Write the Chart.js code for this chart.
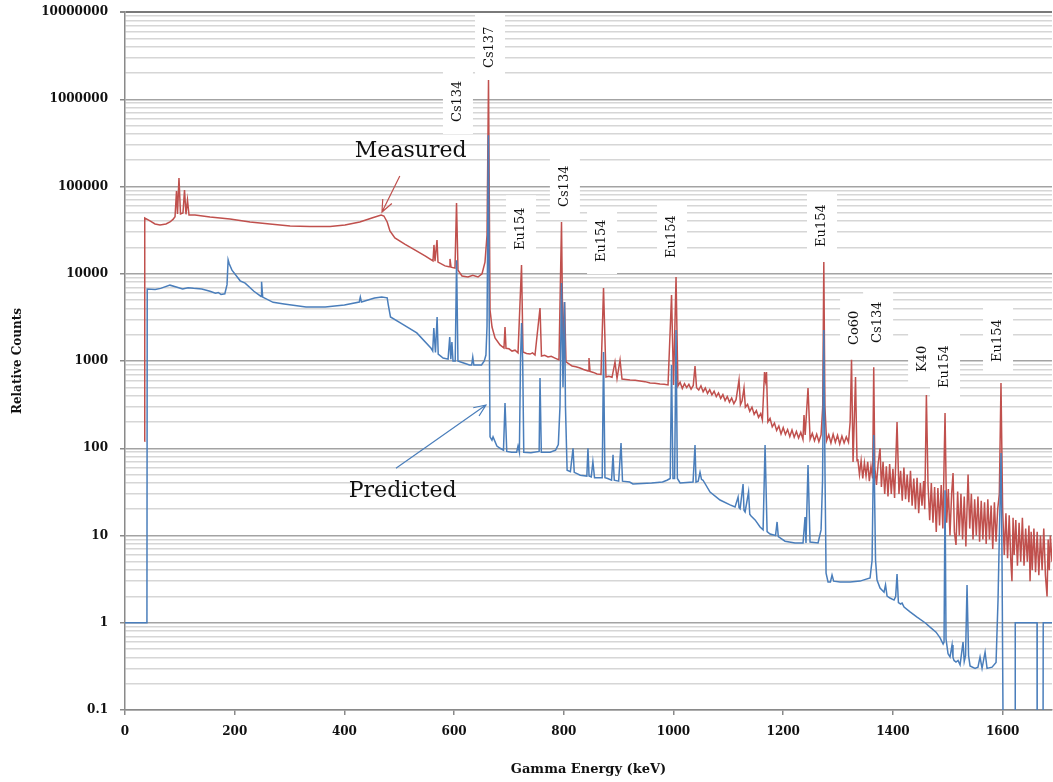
<!DOCTYPE html>
<html><head><meta charset="utf-8">
<script src="https://cdn.jsdelivr.net/npm/chart.js@4/dist/chart.umd.min.js"></script>
<style>html,body{margin:0;padding:0;background:#fff}canvas{display:block}</style>
</head><body>
<canvas id="c" width="1053" height="782"></canvas>
<script>
// [energy keV, relative counts]
const measured = [
[35.3,120],[36,43500],[45.6,40300],[54.7,37200],[63.8,36200],[74.7,37200],[82,39200],[87.5,42000],[91.2,45000],
[93.9,88700],[95.7,48400],[98.4,125000],[101.2,48400],[105.7,49600],[108.5,91200],[111.2,48000],[113.9,70000],
[116.7,47100],[127.6,47100],[155,44700],[191.4,42400],[228,39200],[264,37200],[301,35200],[337,34800],[374,34800],
[401,36200],[428,39200],[450,43500],[467,47100],[472,45900],[478,39200],[483,30900],[492,25700],[510,21900],
[529,18700],[547,16000],[561.5,14000],[563.3,21400],[565.2,13900],[568.8,24400],[570.6,13600],[583.4,12300],
[590.7,12000],[592.5,14800],[594.4,11900],[601.6,11600],[604.4,64700],[607.1,11000],[614.4,9420],[625.3,9180],
[634,9600],[643.6,9180],[650.9,10000],[656.3,13600],[660,27800],[662.7,1660000],[665.5,3840],[669.1,2450],
[674.6,1840],[683.7,1530],[690.9,1410],[692.8,2450],[694.6,1400],[700,1380],[705.6,1300],[711,1330],[716.5,1240],
[722.9,12600],[725.6,1270],[732,1220],[738.4,1200],[743,1240],[747.5,1170],[756.6,4050],[759.3,1140],[765,1160],
[771.2,1110],[777,1130],[783.9,1080],[791.2,1030],[795.8,39200],[798.5,1150],[801.3,4740],[804,975],[810,920],
[815,877],[822,860],[829.5,832],[836,800],[844.1,768],[845.9,1080],[847.8,760],[854,740],[860.5,710],[867.8,700],
[872.4,6870],[876.9,656],[882,670],[887.9,650],[893.3,975],[897,630],[902.5,1030],[906.1,622],[913,615],
[920.7,605],[930,600],[938.9,590],[948,580],[957.2,560],[966,555],[975.4,545],[983,540],[990,531],[996.4,5720],
[1000,530],[1004.6,9190],[1008,517],[1012,570],[1016,485],[1020,550],[1024,495],[1028,540],[1032,475],[1036,525],
[1039.2,877],[1042,495],[1046,465],[1050,520],[1054,445],[1058,490],[1062,425],[1066,470],[1070,410],[1074,450],
[1078,390],[1082,430],[1086,372],[1090,412],[1094,352],[1098,392],[1102,338],[1106,376],[1110,324],[1114,360],
[1119.4,605],[1122,315],[1125,350],[1128.5,491],[1131,295],[1135,318],[1139,265],[1143,296],[1147,245],[1151,270],
[1155,226],[1159,250],[1162,212],[1165.9,748],[1167.7,600],[1169.5,748],[1172,200],[1176,220],[1180,176],
[1184,194],[1188,160],[1192,180],[1196,146],[1200,172],[1204,144],[1208,164],[1212,136],[1216,162],[1220,134],
[1224,156],[1228,131],[1232,152],[1236,126],[1237.9,240],[1240,142],[1245.2,491],[1249,127],[1253,148],[1257,122],
[1261,145],[1265,119],[1269,142],[1272,300],[1274,13600],[1276,300],[1279,122],[1283,143],[1287,115],[1291,145],
[1295,117],[1299,141],[1303,112],[1307,138],[1311,115],[1315,135],[1319,117],[1322,200],[1324.5,1030],
[1327.3,69.5],[1331.8,656],[1334.5,72],
[1336,75],[1339,50],[1342,72],[1345,45],[1348,68],[1351,48],[1354,70],[1357,42],[1360,62],[1363,45],[1365,850],
[1367,60],[1370,38],[1373,66],[1376.5,100],[1379,36],[1382,70],[1385,30],[1388,62],[1391,28],[1394,66],[1397,30],
[1400,58],[1403,27],[1407.5,200],[1411,30],[1414,55],[1417,25],[1420,60],[1423,26],[1426,50],[1429,24],[1432,55],
[1435,22],[1438,45],[1441,20],[1444,46],[1447,18],[1450,40],[1453,22],[1456,42],[1458,20],[1461,407],[1464,38],
[1467,15],[1470,40],[1473,14],[1476,36],[1479,11],[1482,35],[1485,13],[1488,38],[1491,12],[1495,253],[1498,14],
[1501,34],[1504,10],[1507,30],[1509.6,52],[1512,11],[1515,7.8],[1518,32],[1521,10],[1524,30],[1527,9],[1530,28],
[1533,7.5],[1537,50],[1540,12],[1543,30],[1546,9],[1549,26],[1552,10],[1555,28],[1558,8.5],[1561,25],[1564,9],
[1567,24],[1570,8],[1573,26],[1576,9],[1579,22],[1582,7],[1585,24],[1588,8.5],[1591,20],[1594,30],[1597,560],
[1600,20],[1603,6],[1606,18],[1609,5.5],[1612,17],[1615,5],[1617,3],[1619,16],[1621,6],[1624,15],[1627,4.5],
[1630,14],[1633,5],[1636,16],[1639,4.5],[1642,12],[1645,5],[1648,13],[1650,3],[1652,11],[1654,4],[1657,12],
[1660,3.8],[1663,11],[1666,3.5],[1669,10],[1672,4],[1675,12],[1678,3.5],[1681,2],[1683,9],[1685,4],[1687,10],[1690,5]
];
const predicted = [
[0,1],[40,1],[40.5,6690],[55,6600],[65,6800],[82,7400],[95,7000],[105,6700],[115,6900],[125,6800],[140,6700],
[155,6300],[165,6000],[170,6100],[175,5800],[182,5900],[186,7500],[188,14400],[190,13000],[195,11000],[210,8300],
[219,7800],[235,6300],[248,5500],[249,8100],[251,5400],[270,4700],[290,4500],[330,4150],[365,4150],[400,4380],
[427,4740],[429,5420],[431,4750],[455,5280],[468,5420],[478,5300],[480,4400],[484,3200],[502,2730],[532,2100],
[558,1400],[561,1300],[563,2390],[566,1250],[569,3190],[571,1200],[580,1080],[589,1050],[592,1880],[594,1050],
[596,1650],[598,1000],[602,1000],[604.5,14300],[607,1000],[612,975],[628,900],[632,900],[634,1110],[636,900],
[650,900],[655,1000],[658,1170],[660,2500],[662.5,387000],[664,3000],[665.5,135],[669,124],[671,135],[678,106],
[684,100],[690,95],[692.8,330],[696,92],[705,90],[714,90],[716.5,106],[719,90],[721,1000],[723,2730],[725,1000],
[727,90],[740,89],[755,92],[756.6,640],[759,90],[775,90],[785,95],[790,110],[793,300],[795.8,7830],[798.5,500],
[801.3,4740],[803,300],[806,56],[812,54],[816.8,100],[819,53],[830,49],[842,48],[844,100],[846,48],[850,47],
[853,70],[856,46],[870,46],[872.4,1270],[875,46],[880,45],[887,43],[889.7,84],[892,43],[900,42],[904.3,115],
[907,42],[920,41],[926,39],[960,40],[980,41],[988,43],[994,45],[996.4,900],[999,45],[1002,45],[1004.6,2270],
[1007,45],[1012,40],[1035.6,41],[1039.2,109],[1041,41],[1045,42],[1048.3,53],[1051,44],[1053.8,43],[1066.6,31.5],
[1084.8,25.5],[1103.1,22.4],[1112.2,21.2],[1117.7,27.6],[1119.5,20.8],[1121.4,20.2],[1126.8,38.9],[1128.5,19.5],
[1130.5,18.6],[1136.8,31.5],[1139,17.5],[1141.4,16.7],[1148.7,15.1],[1157.8,12.5],[1163.3,11.6],[1166.9,109],
[1170.6,11.1],[1176,10.4],[1186,10],[1188.8,14.3],[1191,9.7],[1203.3,8.6],[1221.5,8.2],[1236.1,8.2],[1239.8,16.3],
[1241.5,8.2],[1245.2,64.3],[1248.9,8.4],[1263.5,8.2],[1269,11.6],[1271.7,43],[1274,2270],[1276.3,43],[1278.1,3.7],
[1281.7,2.93],[1286,2.93],[1289,3.52],[1292,3.0],[1303.6,2.93],[1321.9,2.93],[1340,3.0],[1358.3,3.26],[1362,5.2],
[1365,142],[1368.3,5.2],[1371,3.09],[1376.5,2.5],[1383.8,2.24],[1386.5,2.71],[1389.3,2.02],[1394.7,1.92],
[1402,1.82],[1405,2.0],[1407.5,3.62],[1410,1.7],[1414,1.64],[1416.7,1.68],[1420.3,1.51],[1431.2,1.33],[1444,1.16],
[1458.6,1.0],[1467.7,0.89],[1478.6,0.78],[1486,0.67],[1491.5,0.57],[1493.2,0.6],[1495,33],[1496.8,0.65],
[1500.5,0.44],[1504.1,0.405],[1507.8,0.556],[1509.5,0.4],[1511.4,0.37],[1515,0.355],[1518.7,0.37],[1522.4,0.33],
[1527.8,0.6],[1530,0.36],[1532.4,0.42],[1535.1,2.71],[1537.9,0.42],[1540.6,0.32],[1549.7,0.30],[1555,0.31],
[1558.8,0.405],[1562.5,0.30],[1568,0.46],[1571.6,0.30],[1580.7,0.31],[1588,0.35],[1591.6,1.82],[1595.3,25],
[1597.1,88],[1598.9,5.2],[1601.6,0.01],[1622.6,0.01],[1623,1],[1662.7,1],[1663,0.01],[1673.5,0.01],[1674,1],[1690,1]
];
const xTickValues = [0,200,400,600,800,1000,1200,1400,1600];
const yDecadeValues = [0.1,1,10,100,1000,10000,100000,1000000,10000000];
const yTickLabels = ['0.1','1','10','100','1000','10000','100000','1000000','10000000'];

const peakLabels = ['Cs134','Cs137','Eu154','Cs134','Eu154','Eu154','Eu154','Co60','Cs134','K40','Eu154','Eu154'];
const peakLabelEnergy = [607,665.5,722,802,869.7,997.3,1270.7,1331,1373,1455,1495,1591.6];
const peakLabelCounts = [548000,2280000,18700,58200,13600,15200,20300,1525,1610,748,491,975];

const noteTexts = ['Measured','Predicted'];
const noteAt = [[419,218000],[408,27.6]];
const arrowFrom = [[501,132000],[494,59]];
const arrowTo = [[468.5,51000],[658,313]];

const RED = '#c0504d', BLUE = '#4a7ebb';
const noteColors = [RED, BLUE];

const yGridValues = [];
yDecadeValues.forEach((d, i) => {
  yGridValues.push({value: d, major: true});
  if (i < yDecadeValues.length - 1) for (let k = 2; k <= 9; k++) yGridValues.push({value: +(d * k).toPrecision(6), major: false});
});

const annot = {
  id: 'annot',
  beforeDatasetsDraw(chart) {
    const {ctx, scales: {x, y}} = chart;
    ctx.save();
    ctx.font = '13px "DejaVu Serif"';
    peakLabels.forEach((t, i) => {
      const cx = x.getPixelForValue(peakLabelEnergy[i]);
      const by = y.getPixelForValue(peakLabelCounts[i]);
      const w = ctx.measureText(t).width;
      ctx.fillStyle = '#fff';
      ctx.fillRect(cx - 15, by - w - 12, 30, w + 24);
    });
    ctx.fillStyle = '#111';
    peakLabels.forEach((t, i) => {
      const cx = x.getPixelForValue(peakLabelEnergy[i]);
      const by = y.getPixelForValue(peakLabelCounts[i]);
      ctx.save();
      ctx.translate(cx, by);
      ctx.rotate(-Math.PI / 2);
      ctx.textAlign = 'left';
      ctx.textBaseline = 'middle';
      ctx.fillText(t, 0, 0);
      ctx.restore();
    });
    ctx.restore();
  },
  afterDatasetsDraw(chart) {
    const {ctx, scales: {x, y}} = chart;
    ctx.save();
    ctx.font = '22px "DejaVu Serif"';
    ctx.fillStyle = '#111';
    ctx.textAlign = 'left';
    ctx.textBaseline = 'alphabetic';
    noteTexts.forEach((t, i) => {
      ctx.fillText(t, x.getPixelForValue(noteAt[i][0]), y.getPixelForValue(noteAt[i][1]));
    });
    arrowFrom.forEach((f, i) => {
      const x0 = x.getPixelForValue(f[0]), y0 = y.getPixelForValue(f[1]);
      const x1 = x.getPixelForValue(arrowTo[i][0]), y1 = y.getPixelForValue(arrowTo[i][1]);
      const a = Math.atan2(y0 - y1, x0 - x1);
      ctx.strokeStyle = noteColors[i];
      ctx.lineWidth = 1.2;
      ctx.beginPath();
      ctx.moveTo(x0, y0); ctx.lineTo(x1, y1);
      ctx.moveTo(x1 + 13 * Math.cos(a + 0.4), y1 + 13 * Math.sin(a + 0.4));
      ctx.lineTo(x1, y1);
      ctx.lineTo(x1 + 13 * Math.cos(a - 0.4), y1 + 13 * Math.sin(a - 0.4));
      ctx.stroke();
    });
    ctx.restore();
  }
};

Chart.defaults.font.family = '"DejaVu Serif", serif';
Chart.defaults.color = '#111';

new Chart(document.getElementById('c'), {
  type: 'line',
  data: {
    datasets: [
      {label: 'Predicted', data: predicted.map(([e, c]) => ({x: e, y: c})), borderColor: BLUE, borderWidth: 1.5, pointRadius: 0, tension: 0, fill: false},
      {label: 'Measured', data: measured.map(([e, c]) => ({x: e, y: c})), borderColor: RED, borderWidth: 1.5, pointRadius: 0, tension: 0, fill: false}
    ]
  },
  options: {
    responsive: false,
    animation: false,
    devicePixelRatio: 1,
    layout: {padding: {top: 12, right: 1, left: 0, bottom: 0}},
    plugins: {legend: {display: false}, tooltip: {enabled: false}},
    scales: {
      x: {
        type: 'linear', min: 0, max: 1690,
        afterBuildTicks: s => { s.ticks = xTickValues.map(v => ({value: v})); },
        afterFit: s => { s.height = 72; s.paddingLeft = 0; s.paddingRight = 0; },
        grid: {drawOnChartArea: false, drawTicks: true, tickLength: 5, tickColor: '#8a8a8a', lineWidth: 1.5},
        border: {display: true, color: '#8a8a8a', width: 1.5},
        ticks: {font: {size: 12, weight: 'bold'}, color: '#111', padding: 10, maxRotation: 0, autoSkip: false, callback: v => String(v)},
        title: {display: true, text: 'Gamma Energy (keV)', font: {size: 13, weight: 'bold'}, color: '#111', padding: {top: 0, bottom: 5}}
      },
      y: {
        type: 'logarithmic', min: 0.1, max: 10000000,
        afterBuildTicks: s => { s.ticks = yGridValues.map(t => ({value: t.value, major: t.major})); },
        afterFit: s => { s.width = 125; s.paddingTop = 0; s.paddingBottom = 0; },
        grid: {
          drawTicks: true, tickLength: 5,
          color: c => (c.tick && c.tick.value === 10000000) ? '#7a7a7a' : (c.tick && c.tick.major ? '#a3a3a3' : '#d6d6d6'),
          lineWidth: c => (c.tick && c.tick.value === 10000000) ? 2 : 1.5,
          tickColor: c => (c.tick && c.tick.major) ? '#8a8a8a' : 'rgba(0,0,0,0)'
        },
        border: {display: true, color: '#8a8a8a', width: 1.5},
        ticks: {
          autoSkip: false, padding: 12, font: {size: 12, weight: 'bold'}, color: '#111',
          callback: v => { const i = yDecadeValues.findIndex(d => Math.abs(v / d - 1) < 1e-6); return i >= 0 ? yTickLabels[i] : ''; }
        },
        title: {display: true, text: 'Relative Counts', font: {size: 12, weight: 'bold'}, color: '#111', padding: {top: 11, bottom: 0}}
      }
    }
  },
  plugins: [annot]
});
</script>
</body></html>
